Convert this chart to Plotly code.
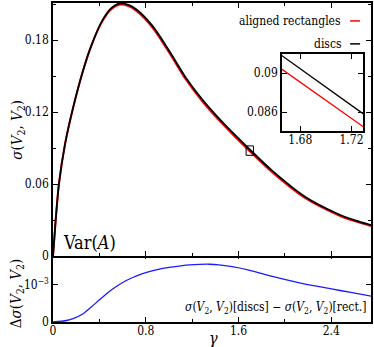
import plotly.graph_objects as go

# ---- data ----
gamma = [0, 0.023, 0.051, 0.103, 0.174, 0.26, 0.33, 0.42, 0.5, 0.57, 0.65, 0.72, 0.86,
         1.003, 1.146, 1.288, 1.431, 1.574, 1.697, 1.888, 2.174, 2.459, 2.6, 2.745]
sigma_discs = [0, 0.030, 0.060, 0.093, 0.124, 0.155, 0.1755, 0.1955, 0.2065, 0.2105, 0.2095,
               0.2056, 0.1917, 0.1710, 0.1488, 0.1306, 0.1149, 0.1006, 0.0889, 0.0715,
               0.0496, 0.0352, 0.0300, 0.0258]
sigma_rect = [0, 0.0300, 0.05999, 0.09297, 0.12391, 0.15478, 0.1751, 0.19485, 0.20565, 0.20951,
              0.20837, 0.20438, 0.19033, 0.16954, 0.14728, 0.12906, 0.11337, 0.09913, 0.08752,
              0.07027, 0.04858, 0.03435, 0.02923, 0.02511]

delta_gamma = [0, 0.117, 0.174, 0.26, 0.33, 0.403, 0.475, 0.546, 0.62, 0.688, 0.76, 0.831, 0.9,
               0.974, 1.117, 1.26, 1.35, 1.43, 1.545, 1.69, 1.831, 1.97, 2.117, 2.26, 2.402,
               2.57, 2.745]
delta = [0, 0.00004, 0.00009, 0.00022, 0.00040, 0.00060, 0.00079, 0.00095, 0.00109, 0.00119,
         0.00128, 0.001345, 0.00140, 0.001445, 0.00151, 0.00154, 0.001545, 0.00153, 0.00148,
         0.00139, 0.00127, 0.00116, 0.001055, 0.000965, 0.000885, 0.00079, 0.00069]

inset_gamma = [1.66, 1.735]
inset_discs = [0.0923, 0.0853]
inset_rect = [0.0909, 0.0840]

x_range = [0, 2.743]
main_y_range = [0, 0.211]
low_y_range = [0, 0.0018]
inset_x_range = [1.6657, 1.729]
inset_y_range = [0.08407, 0.09193]

x_ticks = [0, 0.8, 1.6, 2.4]
x_ticktext = ["0", "0.8", "1.6", "2.4"]
main_y_ticks = [0, 0.06, 0.12, 0.18]
main_y_ticktext = ["0", "0.06", "0.12", "0.18"]
low_y_ticks = [0, 0.001]
low_y_ticktext = ["0", "10<sup>−3</sup>"]
inset_x_ticks = [1.68, 1.72]
inset_x_ticktext = ["1.68", "1.72"]
inset_y_ticks = [0.086, 0.09]
inset_y_ticktext = ["0.086", "0.09"]

FONT = "DejaVu Serif Condensed, DejaVu Serif"
RED = "#ff0000"
BLUE = "#1a1aff"

fig = go.Figure()
fig.add_trace(go.Scatter(x=gamma, y=sigma_rect, mode="lines",
                         line=dict(color=RED, width=2, shape="spline", smoothing=0.8),
                         xaxis="x2", yaxis="y2", showlegend=False))
fig.add_trace(go.Scatter(x=gamma, y=sigma_discs, mode="lines",
                         line=dict(color="black", width=1.8, shape="spline", smoothing=0.8),
                         xaxis="x2", yaxis="y2", showlegend=False))
fig.add_trace(go.Scatter(x=delta_gamma, y=delta, mode="lines",
                         line=dict(color=BLUE, width=1.3, shape="spline", smoothing=0.8),
                         xaxis="x", yaxis="y", showlegend=False))
fig.add_trace(go.Scatter(x=inset_gamma, y=inset_rect, mode="lines", line=dict(color=RED, width=1.3),
                         xaxis="x3", yaxis="y3", showlegend=False))
fig.add_trace(go.Scatter(x=inset_gamma, y=inset_discs, mode="lines", line=dict(color="black", width=1.3),
                         xaxis="x3", yaxis="y3", showlegend=False))

axis_common = dict(showline=True, linecolor="black", linewidth=1.5, mirror="allticks",
                   ticks="inside", ticklen=5, tickwidth=1, tickcolor="black",
                   showgrid=False, zeroline=False,
                   tickfont=dict(family=FONT, size=12, color="black"))

main_bottom = 66 / 320
low_top = main_bottom + 1.5 / 320
fig.update_layout(
    width=374, height=347,
    margin=dict(l=53, r=1, t=2, b=25),
    paper_bgcolor="white", plot_bgcolor="white",
    font=dict(family=FONT, color="black"),
    xaxis=dict(domain=[0, 1], range=x_range, anchor="y", tickvals=x_ticks, ticktext=x_ticktext,
               ticklabelstandoff=-3,
               minor=dict(ticks="inside", ticklen=3, dtick=0.4, tick0=0, tickcolor="black"),
               **axis_common),
    yaxis=dict(domain=[0, low_top], range=low_y_range, anchor="x", tickvals=low_y_ticks,
               ticktext=low_y_ticktext, **axis_common),
    xaxis2=dict(domain=[0, 1], range=x_range, anchor="y2", tickvals=x_ticks, showticklabels=False,
                minor=dict(ticks="inside", ticklen=3, dtick=0.4, tick0=0, tickcolor="black"),
                **axis_common),
    yaxis2=dict(domain=[main_bottom, 1], range=main_y_range, anchor="x2", tickvals=main_y_ticks,
                ticktext=main_y_ticktext,
                minor=dict(ticks="inside", ticklen=3, dtick=0.03, tick0=0, tickcolor="black"),
                **axis_common),
    xaxis3=dict(domain=[0.72, 0.975], range=inset_x_range, anchor="y3", tickvals=inset_x_ticks,
                ticktext=inset_x_ticktext, ticklabelstandoff=-3, **axis_common),
    yaxis3=dict(domain=[0.598, 0.84], range=inset_y_range, anchor="x3", tickvals=inset_y_ticks,
                ticktext=inset_y_ticktext, **axis_common),
)

# box marking the inset region on the main curve
fig.add_shape(type="rect", xref="x2", yref="y2",
              x0=inset_x_range[0], x1=inset_x_range[1], y0=inset_y_range[0], y1=inset_y_range[1],
              line=dict(color="black", width=1))


def px_x(p):
    return (p - 53) / 320


def px_y(p):
    return (322 - p) / 320


legend_items = [("aligned rectangles", RED, 20), ("discs", "black", 43)]
for label, color, ypx in legend_items:
    fig.add_annotation(text=label, xref="paper", yref="paper", x=px_x(345), y=px_y(ypx),
                       xanchor="right", yanchor="middle", showarrow=False,
                       font=dict(family=FONT, size=12, color="black"))
    fig.add_shape(type="line", xref="paper", yref="paper", x0=px_x(352), x1=px_x(362),
                  y0=px_y(ypx), y1=px_y(ypx), line=dict(color=color, width=1.5))

fig.add_annotation(text="Var(<i>A</i>)", xref="paper", yref="paper", x=px_x(61), y=px_y(242),
                   xanchor="left", yanchor="middle", showarrow=False,
                   font=dict(family=FONT, size=18, color="black"))
fig.add_annotation(text="<i>σ</i>(<i>V</i><sub>2</sub>, <i>V</i><sub>2</sub>)[discs] − <i>σ</i>(<i>V</i><sub>2</sub>, <i>V</i><sub>2</sub>)[rect.]",
                   xref="paper", yref="paper", x=px_x(370), y=px_y(308),
                   xanchor="right", yanchor="middle", showarrow=False,
                   font=dict(family=FONT, size=12, color="black"))
fig.add_annotation(text="<i>σ</i>(<i>V</i><sub>2</sub>, <i>V</i><sub>2</sub>)", xref="paper", yref="paper",
                   x=px_x(17), y=px_y(129), textangle=-90, xanchor="center", yanchor="middle",
                   showarrow=False, font=dict(family=FONT, size=15, color="black"))
fig.add_annotation(text="Δ<i>σ</i>(<i>V</i><sub>2</sub>, <i>V</i><sub>2</sub>)", xref="paper", yref="paper",
                   x=px_x(16), y=px_y(293), textangle=-90, xanchor="center", yanchor="middle",
                   showarrow=False, font=dict(family=FONT, size=15, color="black"))
fig.add_annotation(text="<i>γ</i>", xref="paper", yref="paper", x=px_x(215), y=px_y(339),
                   xanchor="center", yanchor="middle", showarrow=False,
                   font=dict(family=FONT, size=16, color="black"))

fig.write_html("out.html", config={"displayModeBar": False},
               post_script="document.body.style.margin='0';document.body.style.overflow='hidden';")
